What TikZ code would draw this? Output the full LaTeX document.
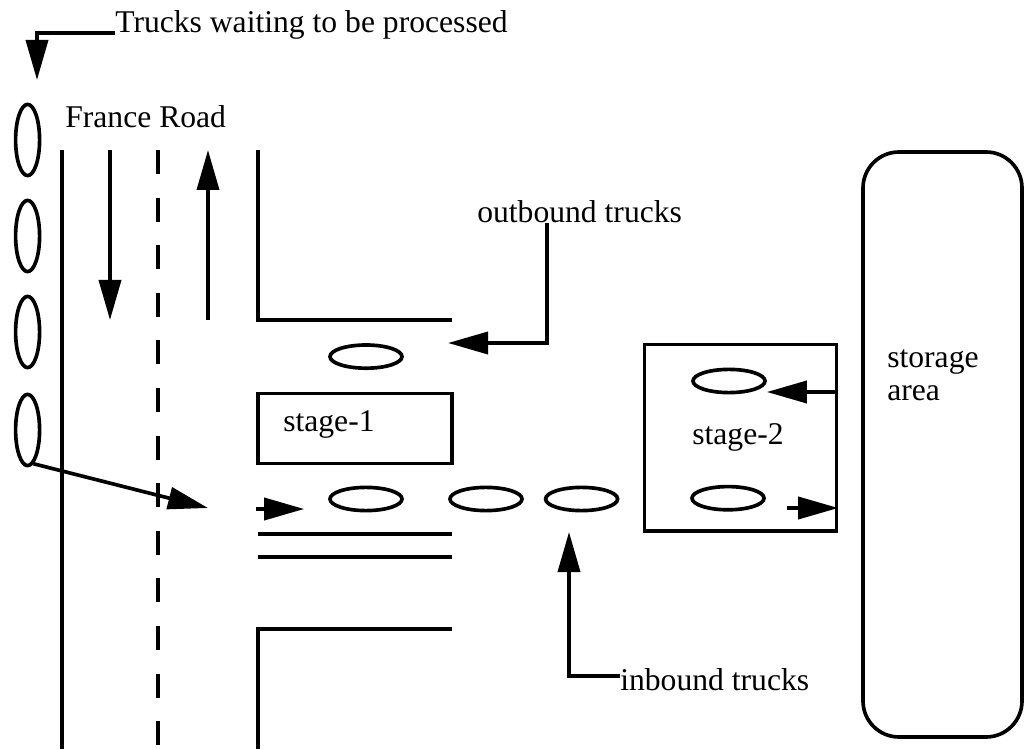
\documentclass[tikz,border=0pt]{standalone}
\usepackage{fontspec}
\setmainfont{Liberation Serif}
\usetikzlibrary{arrows.meta,shapes.geometric}
\begin{document}
\begin{tikzpicture}[
  road/.style={line width=2.6pt},
  arr/.style={road, -{Triangle[length=1cm,width=0.55cm]}},
  vtruck/.style={draw, line width=2.6pt, ellipse, inner sep=0pt, minimum width=0.6cm, minimum height=1.78cm},
  htruck/.style={draw, line width=2.6pt, ellipse, inner sep=0pt, minimum width=1.8cm, minimum height=0.58cm},
  stagebox/.style={draw, line width=2.6pt, rectangle, inner sep=0pt},
  storebox/.style={draw, line width=2.6pt, rectangle, rounded corners=0.9cm, inner sep=0pt},
  lbl/.style={inner sep=0pt, font=\fontsize{22.5}{26}\selectfont}
]
\useasboundingbox (0,0) rectangle (25.6,18.725);
% waiting queue
\node[lbl, anchor=base west] (waitlbl) at (2.875,17.9) {Trucks waiting to be processed};
\coordinate (waittip) at (0.925,16.725);
\draw[arr] (waitlbl.base west) -| (waittip);
\foreach \y [count=\i] in {15.225,12.825,10.425,7.975}
  \node[vtruck] (q\i) at (0.69,\y) {};
% France Road
\node[lbl, anchor=base west] (roadlbl) at (1.625,15.525) {France Road};
\draw[road] (1.55,14.975) -- (1.55,0);
\draw[road, dash pattern=on 0.6cm off 0.59cm] (3.95,14.975) -- (3.95,0);
\draw[arr] (2.75,14.975) -- (2.75,10.725);
\draw[arr] (5.2,10.725) -- (5.2,14.975);
\draw[road] (6.45,14.975) -- (6.45,10.725) -- (11.3,10.725);
\draw[road] (11.3,3.0) -- (6.45,3.0) -- (6.45,0);
\draw[road] (6.45,5.375) -- (11.3,5.375);
\draw[road] (6.45,4.8) -- (11.3,4.8);
% stage-1
\node[stagebox, minimum width=4.85cm, minimum height=1.75cm] (stage1) at (8.875,8.015) {};
\node[lbl, anchor=base west] (s1lbl) at (7.075,7.925) {stage-1};
\node[htruck] (out1) at (9.15,9.81) {};
\node[htruck] (in1) at (9.15,6.25) {};
\node[htruck] (in2) at (12.15,6.25) {};
\node[htruck] (in3) at (14.54,6.25) {};
\coordinate (lane) at (5.2,6.025);
\draw[arr] (q4.-80) -- (lane);
\coordinate (gate) at (6.4,6.0);
\draw[arr] (gate) -- ([xshift=-0.6cm,yshift=-0.25cm]in1.west);
% stage-2
\node[stagebox, minimum width=4.8cm, minimum height=4.66cm] (stage2) at (18.51,7.78) {};
\node[lbl, anchor=base] (s2lbl) at (18.45,7.6) {stage-2};
\node[htruck] (st2top) at (18.225,9.2) {};
\node[htruck] (st2bot) at (18.2,6.27) {};
\coordinate (st2tip) at ([yshift=-0.275cm]st2top.east);
\draw[arr] (stage2.east |- st2tip) -- (st2tip);
\coordinate (st2out) at ([xshift=0.54cm,yshift=-0.245cm]st2bot.east);
\draw[arr] (st2out) -- (stage2.east |- st2out);
% labels with leaders
\node[lbl, anchor=base west] (outlbl) at (11.925,13.15) {outbound trucks};
\coordinate (outtip) at (11.2,10.15);
\draw[arr] ([xshift=1.75cm]outlbl.base west) |- (outtip);
\node[lbl, anchor=base west] (inlbl) at (15.5,1.475) {inbound trucks};
\coordinate (intip) at (14.225,5.425);
\draw[arr] ([yshift=0.35cm]inlbl.base west) -| (intip);
% storage
\node[storebox, minimum width=3.975cm, minimum height=14.625cm] (store) at (23.5625,7.6125) {};
\node[lbl, anchor=north west, align=left, font=\fontsize{22.5}{23}\selectfont] (storlbl) at (22.175,9.98) {storage\\area};
\end{tikzpicture}
\end{document}
